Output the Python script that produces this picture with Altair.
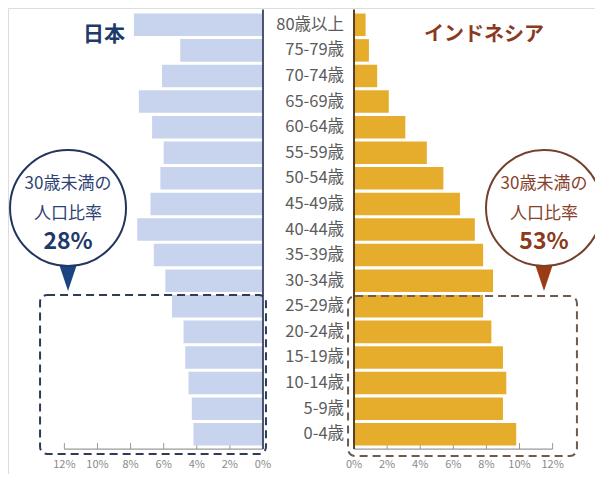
import altair as alt
import pandas as pd

# ---------------- data ----------------
ages = ["80歳以上", "75-79歳", "70-74歳", "65-69歳", "60-64歳", "55-59歳",
        "50-54歳", "45-49歳", "40-44歳", "35-39歳", "30-34歳", "25-29歳",
        "20-24歳", "15-19歳", "10-14歳", "5-9歳", "0-4歳"]
japan = [7.8, 5.0, 6.1, 7.5, 6.7, 6.0, 6.2, 6.8, 7.6, 6.6, 5.9, 5.5, 4.8, 4.7, 4.5, 4.3, 4.2]
indonesia = [0.7, 0.9, 1.4, 2.1, 3.1, 4.4, 5.4, 6.4, 7.3, 7.8, 8.4, 7.8, 8.3, 9.0, 9.2, 9.0, 9.8]
tick_values = [0, 2, 4, 6, 8, 10, 12]
tick_labels = ["0%", "2%", "4%", "6%", "8%", "10%", "12%"]
titles = ["日本", "インドネシア"]
callout_lines = ["30歳未満の", "人口比率"]
callout_values = ["28%", "53%"]

# ---------------- layout ----------------
FONT = "Noto Sans CJK JP"
G = 2.75                      # half gap (in % units) between the two zero lines
XMIN, XMAX = -18.157, 17.311
YMIN, YMAX = -0.156, 18.054
W, H = 587, 466

JP_BAR, ID_BAR = "#c8d4ed", "#e6ad2d"
JP_DARK, ID_DARK = "#1e3a6a", "#7d3722"

xs = alt.Scale(domain=[XMIN, XMAX], nice=False, zero=False)
ys = alt.Scale(domain=[YMIN, YMAX], nice=False, zero=False, reverse=True)

bars_df = pd.DataFrame({
    "age": ages * 2,
    "row": list(range(len(ages))) * 2,
    "country": ["日本"] * len(ages) + ["インドネシア"] * len(ages),
    "side": [-1] * len(ages) + [1] * len(ages),
    "value": japan + indonesia,
})

bars = alt.Chart(bars_df).transform_calculate(
    x0=f"datum.side*{G}",
    x1=f"datum.side*({G}+datum.value)",
    y0="datum.row+0.06",
    y1="datum.row+0.94",
).mark_rect().encode(
    x=alt.X("x0:Q", scale=xs, axis=None),
    x2="x1:Q",
    y=alt.Y("y0:Q", scale=ys, axis=None),
    y2="y1:Q",
    color=alt.Color("country:N", scale=alt.Scale(domain=["日本", "インドネシア"],
                                                 range=[JP_BAR, ID_BAR]), legend=None),
)

labels_df = pd.DataFrame({"age": ages, "row": list(range(len(ages)))})
age_labels = alt.Chart(labels_df).transform_calculate(
    x=f"{G}-0.6", y="datum.row+0.5"
).mark_text(align="right", baseline="middle", font=FONT, fontSize=16.5,
            color="#5c5c5c").encode(
    x=alt.X("x:Q", scale=xs, axis=None),
    y=alt.Y("y:Q", scale=ys, axis=None),
    text="age:N",
)

# axes ----------------------------------------------------------
tick_df = pd.DataFrame({
    "v": tick_values * 2,
    "label": tick_labels * 2,
    "side": [-1] * len(tick_values) + [1] * len(tick_values),
})
tick_base = alt.Chart(tick_df).transform_calculate(x=f"datum.side*({G}+datum.v)")
tick_rules = tick_base.transform_calculate(ya="16.84", yb="17.08").mark_rule(
    color="#9a9a9a", strokeWidth=1).encode(
    x=alt.X("x:Q", scale=xs, axis=None),
    y=alt.Y("ya:Q", scale=ys, axis=None), y2="yb:Q")
tick_text = tick_base.transform_calculate(y="17.72").mark_text(
    font=FONT, fontSize=11, color="#8a8a8a", baseline="middle").encode(
    x=alt.X("x:Q", scale=xs, axis=None),
    y=alt.Y("y:Q", scale=ys, axis=None), text="label:N")

axis_df = pd.DataFrame({"side": [-1, 1]})
base_lines = alt.Chart(axis_df).transform_calculate(
    xa=f"datum.side*{G}", xb=f"datum.side*({G}+12)", y="17.08"
).mark_rule(color="#9a9a9a", strokeWidth=1.2).encode(
    x=alt.X("xa:Q", scale=xs, axis=None), x2="xb:Q",
    y=alt.Y("y:Q", scale=ys, axis=None))
zero_lines = alt.Chart(axis_df).transform_calculate(
    x=f"datum.side*{G}", ya="-0.1", yb="17.08"
).mark_rule(strokeWidth=2).encode(
    x=alt.X("x:Q", scale=xs, axis=None),
    y=alt.Y("ya:Q", scale=ys, axis=None), y2="yb:Q",
    color=alt.Color("side:N", scale=alt.Scale(domain=[-1, 1], range=["#4a5472", "#5e3f22"]),
                    legend=None))

# titles ---------------------------------------------------------
title_df = pd.DataFrame({"t": titles, "x": [-12.36, 10.6], "y": [0.9, 0.9],
                         "c": ["jp", "id"], "fs": [21, 20]})
title_marks = alt.Chart(title_df).mark_text(font=FONT, fontWeight="bold",
                                            baseline="middle").encode(
    x=alt.X("x:Q", scale=xs, axis=None),
    y=alt.Y("y:Q", scale=ys, axis=None), text="t:N",
    size=alt.Size("fs:Q", scale=None, legend=None),
    color=alt.Color("c:N", scale=alt.Scale(domain=["jp", "id"], range=[JP_DARK, "#8a3a1f"]),
                    legend=None))

# dashed boxes ---------------------------------------------------
box_df = pd.DataFrame({"c": ["jp", "id"], "x0": [-16.22, 2.39], "x1": [-2.57, 16.22],
                       "y0": [11.06, 11.10], "y1": [17.27, 17.35]})
boxes = alt.Chart(box_df).mark_rect(fillOpacity=0, strokeWidth=2, strokeDash=[8, 5],
                                    cornerRadius=7).encode(
    x=alt.X("x0:Q", scale=xs, axis=None), x2="x1:Q",
    y=alt.Y("y0:Q", scale=ys, axis=None), y2="y1:Q",
    stroke=alt.Stroke("c:N", scale=alt.Scale(domain=["jp", "id"], range=["#2f3b58", "#6e5b4e"]),
                      legend=None))

# callouts -------------------------------------------------------
call_df = pd.DataFrame({"c": ["jp", "id"], "x": [-14.53, 14.23], "y": [7.66, 7.66],
                        "ty": [10.26, 10.26]})
pointer = alt.Chart(call_df).mark_point(shape="M-0.67,-1L0.67,-1L0,1Z", size=1089,
                                        filled=True, opacity=1).encode(
    x=alt.X("x:Q", scale=xs, axis=None),
    y=alt.Y("ty:Q", scale=ys, axis=None),
    color=alt.Color("c:N", scale=alt.Scale(domain=["jp", "id"], range=["#1c4482", "#9a3c14"]),
                    legend=None))
circles = alt.Chart(call_df).mark_point(shape="circle", size=13456, filled=False,
                                        fill="white", fillOpacity=1, strokeWidth=2,
                                        opacity=1).encode(
    x=alt.X("x:Q", scale=xs, axis=None),
    y=alt.Y("y:Q", scale=ys, axis=None),
    stroke=alt.Stroke("c:N", scale=alt.Scale(domain=["jp", "id"], range=["#23355f", "#744030"]),
                      legend=None))

ctext_rows = []
for c, x in [("jp", -14.53), ("id", 14.23)]:
    ctext_rows.append({"c": c, "x": x, "y": 6.74, "t": callout_lines[0], "fs": 17})
    ctext_rows.append({"c": c, "x": x, "y": 7.88, "t": callout_lines[1], "fs": 17})
ctext_df = pd.DataFrame(ctext_rows)
ctext = alt.Chart(ctext_df).mark_text(font=FONT, baseline="middle").encode(
    x=alt.X("x:Q", scale=xs, axis=None),
    y=alt.Y("y:Q", scale=ys, axis=None), text="t:N",
    size=alt.Size("fs:Q", scale=None, legend=None),
    color=alt.Color("c:N", scale=alt.Scale(domain=["jp", "id"], range=["#2e4373", "#86412c"]),
                    legend=None))
cval_df = pd.DataFrame({"c": ["jp", "id"], "x": [-14.53, 14.23], "y": [9.0, 9.0],
                        "t": callout_values})
cval = alt.Chart(cval_df).mark_text(font=FONT, baseline="middle", fontWeight="bold",
                                    fontSize=23).encode(
    x=alt.X("x:Q", scale=xs, axis=None),
    y=alt.Y("y:Q", scale=ys, axis=None), text="t:N",
    color=alt.Color("c:N", scale=alt.Scale(domain=["jp", "id"], range=["#1e3a6a", "#8c3a1a"]),
                    legend=None))

chart = alt.layer(
    tick_rules, base_lines, bars, zero_lines, tick_text, age_labels, title_marks,
    boxes, pointer, circles, ctext, cval,
).resolve_scale(color="independent", stroke="independent").properties(
    width=W, height=H, padding=0,
    autosize=alt.AutoSizeParams(type="none"),
).configure_view(stroke=None).configure(background="white")

chart.save("out.html", embed_options={"renderer": "svg", "actions": False})
